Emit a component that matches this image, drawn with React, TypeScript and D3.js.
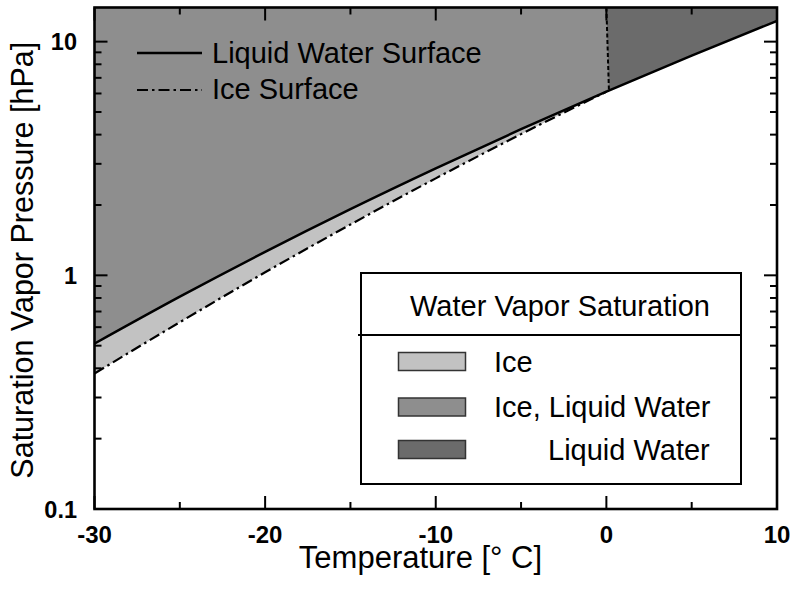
import React from "react";
import * as d3 from "d3";

// Saturation vapour pressure over liquid water and over ice (hPa)
const temps = [-30, -25, -20, -15, -10, -5, 0, 5, 10];
const waterP = [0.51, 0.81, 1.26, 1.92, 2.87, 4.22, 6.11, 8.72, 12.27];
const iceT = [-30, -25, -20, -15, -10, -5, 0];
const iceP = [0.38, 0.63, 1.03, 1.65, 2.6, 4.02, 6.11];
// boundary between the ice/liquid region and the liquid-only region
const meltT = [0.0, 0.15];
const meltP = [14, 6.18];

const xMajor = [-30, -20, -10, 0, 10];
const xMinor = [-25, -15, -5, 5];
const yMajor = [0.1, 1, 10];
const yMajorLabels = ["0.1", "1", "10"];

const regionLabels = ["Ice", "Ice, Liquid Water", "Liquid Water"];
const regionColors = ["#c2c2c2", "#8e8e8e", "#6b6b6b"];

const W = 792;
const H = 592;
const M = { left: 94.5, right: 777, top: 7.5, bottom: 509 };
const FONT = "'Liberation Sans', Arial, Helvetica, sans-serif";

export default function App() {
  const x = d3.scaleLinear().domain([-30, 10]).range([M.left, M.right]);
  const y = d3.scaleLog().domain([0.1, 14]).range([M.bottom, M.top]);

  const water = temps.map((t, i) => ({ t, p: waterP[i] }));
  const ice = iceT.map((t, i) => ({ t, p: iceP[i], w: waterP[temps.indexOf(t)] }));

  const curve = d3.curveMonotoneX;
  const lineGen = d3
    .line<{ t: number; p: number }>()
    .x((d) => x(d.t))
    .y((d) => y(d.p))
    .curve(curve);

  const aboveWater = d3
    .area<{ t: number; p: number }>()
    .x((d) => x(d.t))
    .y0((d) => y(d.p))
    .y1(M.top - 2)
    .curve(curve)(water) as string;

  const iceBand = d3
    .area<{ t: number; p: number; w: number }>()
    .x((d) => x(d.t))
    .y0((d) => y(d.p))
    .y1((d) => y(d.w))
    .curve(curve)(ice) as string;

  const melt = meltT.map((t, i) => ({ t, p: meltP[i] }));
  const liquidPoly =
    `M${x(meltT[0])},${M.top - 2}` +
    `L${x(meltT[1])},${y(meltP[1])}` +
    `L${x(meltT[1])},${M.bottom}` +
    `L${M.right + 2},${M.bottom}` +
    `L${M.right + 2},${M.top - 2}Z`;

  const yTicks = y.ticks();
  const isMajorY = (v: number) => Math.abs(Math.log10(v) - Math.round(Math.log10(v))) < 1e-6;

  const tickW = 2;
  const majLen = 13;
  const minLen = 7;

  const legendY = [361.5, 407, 449.5];
  const legendTextX = [494, 494, 548];

  return (
    <svg
      width={W}
      height={H}
      style={{ position: "absolute", left: 0, top: 0, background: "#fff" }}
      fontFamily={FONT}
    >
      <defs>
        <clipPath id="above-water">
          <path d={aboveWater} />
        </clipPath>
        <clipPath id="plot-area">
          <rect x={M.left} y={M.top} width={M.right - M.left} height={M.bottom - M.top} />
        </clipPath>
      </defs>

      {/* shaded regions */}
      <g clipPath="url(#plot-area)">
        <g clipPath="url(#above-water)">
          <rect x={M.left} y={M.top} width={M.right - M.left} height={M.bottom - M.top} fill={regionColors[1]} />
          <path d={liquidPoly} fill={regionColors[2]} />
        </g>
        <path d={iceBand} fill={regionColors[0]} />

        {/* melting boundary */}
        <path
          d={lineGen(melt) as string}
          fill="none"
          stroke="#000"
          strokeWidth={2}
          strokeDasharray="4,2.5"
        />
        {/* ice surface */}
        <path
          d={lineGen(ice) as string}
          fill="none"
          stroke="#000"
          strokeWidth={2.2}
          strokeDasharray="11,4,2.5,4"
        />
        {/* liquid water surface */}
        <path d={lineGen(water) as string} fill="none" stroke="#000" strokeWidth={2.5} />
      </g>

      {/* ticks: y on left and right */}
      {yTicks.map((v) => {
        const len = isMajorY(v) ? majLen : minLen;
        const yy = y(v);
        return (
          <g key={"y" + v} stroke="#000" strokeWidth={tickW}>
            <line x1={M.left} x2={M.left + len} y1={yy} y2={yy} />
            <line x1={M.right} x2={M.right - len} y1={yy} y2={yy} />
          </g>
        );
      })}
      {/* ticks: x on bottom and top */}
      {[...xMajor.map((v) => [v, majLen]), ...xMinor.map((v) => [v, minLen])].map(([v, len]) => (
        <g key={"x" + v} stroke="#000" strokeWidth={tickW}>
          <line x1={x(v)} x2={x(v)} y1={M.bottom} y2={M.bottom - len} />
          <line x1={x(v)} x2={x(v)} y1={M.top} y2={M.top + len} />
        </g>
      ))}

      {/* frame */}
      <rect
        x={M.left}
        y={M.top}
        width={M.right - M.left}
        height={M.bottom - M.top}
        fill="none"
        stroke="#000"
        strokeWidth={2.6}
      />

      {/* tick labels */}
      {yMajor.map((v, i) => (
        <text
          key={"yl" + v}
          x={77}
          y={y(v) + 8.5}
          textAnchor="end"
          fontSize={23.5}
          fontWeight="bold"
        >
          {yMajorLabels[i]}
        </text>
      ))}
      {xMajor.map((v) => (
        <text key={"xl" + v} x={x(v)} y={543} textAnchor="middle" fontSize={24} fontWeight="bold">
          {v}
        </text>
      ))}

      {/* axis titles */}
      <text x={420.5} y={568} textAnchor="middle" fontSize={31}>
        Temperature [° C]
      </text>
      <text
        transform={`translate(33,${(M.top + M.bottom) / 2 + 2}) rotate(-90)`}
        textAnchor="middle"
        fontSize={30.5}
      >
        Saturation Vapor Pressure [hPa]
      </text>

      {/* line legend */}
      <g>
        <line x1={137} x2={202} y1={53} y2={53} stroke="#000" strokeWidth={2.5} />
        <text x={212} y={63} fontSize={29}>
          Liquid Water Surface
        </text>
        <line
          x1={137}
          x2={202}
          y1={90}
          y2={90}
          stroke="#000"
          strokeWidth={2.2}
          strokeDasharray="11,4,2.5,4"
        />
        <text x={212} y={99} fontSize={29}>
          Ice Surface
        </text>
      </g>

      {/* region legend */}
      <g>
        <rect x={361} y={273} width={380} height={211} fill="#fff" stroke="#000" strokeWidth={2} />
        <line x1={358} x2={741} y1={335} y2={335} stroke="#000" strokeWidth={2} />
        <text x={560} y={316} textAnchor="middle" fontSize={29}>
          Water Vapor Saturation
        </text>
        {regionLabels.map((lab, i) => (
          <g key={lab}>
            <rect
              x={398.5}
              y={legendY[i] - 9}
              width={67}
              height={18}
              fill={regionColors[i]}
              stroke="#333"
              strokeWidth={1.5}
            />
            <text x={legendTextX[i]} y={legendY[i] + 10} fontSize={29}>
              {lab}
            </text>
          </g>
        ))}
      </g>
    </svg>
  );
}
